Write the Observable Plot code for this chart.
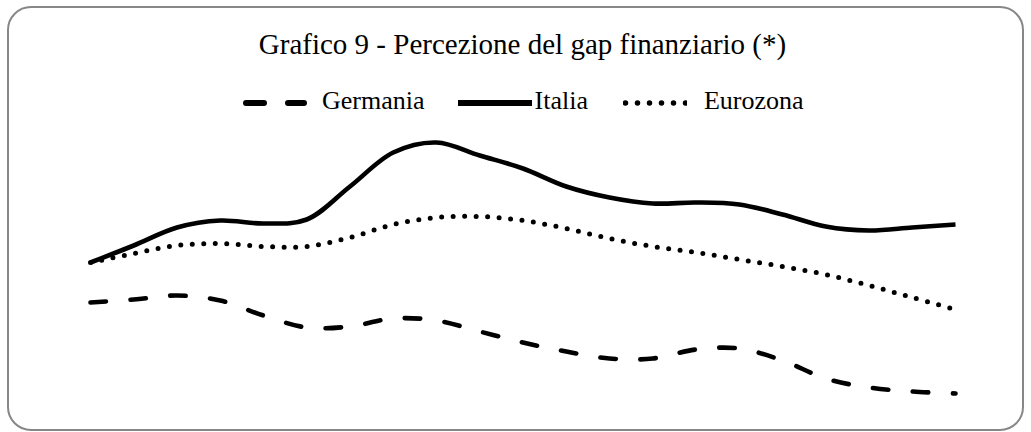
<!DOCTYPE html>
<html>
<head>
<meta charset="utf-8">
<script src="https://cdn.jsdelivr.net/npm/d3@7"></script>
<script src="https://cdn.jsdelivr.net/npm/@observablehq/plot@0.6"></script>
<style>
  html, body { margin: 0; padding: 0; background: #fff; }
  body { width: 1031px; height: 432px; position: relative; overflow: hidden; font-family: "Liberation Serif", "Times New Roman", serif; }
  #frame { position: absolute; left: 7px; top: 6px; width: 1017px; height: 425px; box-sizing: border-box; border: 2px solid #878787; border-radius: 24px; }
  #title { position: absolute; left: 7px; width: 1031px; top: 28px; text-align: center; font-size: 29px; line-height: 32px; color: #000; white-space: nowrap; }
  #legend { position: absolute; left: 243px; top: 86px; display: flex; align-items: center; font-size: 26px; line-height: 30px; color: #000; white-space: nowrap; }
  #legend svg { display: block; }
  #chart { position: absolute; left: 0; top: 110px; }
</style>
</head>
<body>
<div id="frame"></div>
<div id="title"></div>
<div id="legend"></div>
<div id="chart"></div>
<script>
const title = "Grafico 9 - Percezione del gap finanziario (*)";
const seriesNames = ["Germania", "Italia", "Eurozona"];
const periods = d3.range(21);
const germania = [23.6, 24.2, 25.0, 24.0, 21.0, 18.6, 18.8, 20.4, 20.0, 17.8, 15.6, 13.8, 12.4, 12.4, 14.2, 14.4, 12.0, 8.4, 6.6, 5.8, 5.4];
const italia   = [31.6, 35.0, 38.6, 40.0, 39.4, 40.2, 46.8, 53.6, 55.6, 53.0, 50.4, 46.8, 44.6, 43.4, 43.6, 43.2, 41.2, 38.8, 38.0, 38.6, 39.2];
const eurozona = [31.6, 33.4, 35.0, 35.4, 34.8, 34.8, 36.6, 39.2, 40.6, 40.8, 40.0, 38.4, 36.4, 34.8, 33.6, 32.2, 30.8, 29.2, 27.0, 24.6, 22.2];

const lineStyle = {
  Germania: {dash: "15.5,24.5", cap: "round", width: 4.6},
  Italia:   {dash: null, cap: "butt", width: 4.6},
  Eurozona: {dash: "0,11.5", cap: "round", width: 5}
};
// legend swatch geometry: [svg width, gap after swatch, gap after label]
const legendLayout = {
  Germania: {w: 64, dash: "18,24", cap: "round", sw: 6, x1: 3, x2: 61, gapSw: 15, gapLbl: 33},
  Italia:   {w: 74, dash: null, cap: "butt", sw: 6, x1: 0, x2: 74, gapSw: 3, gapLbl: 35},
  Eurozona: {w: 64, dash: "0,12", cap: "round", sw: 5.5, x1: 2.5, x2: 64, gapSw: 17, gapLbl: 0}
};

document.getElementById("title").textContent = title;

const legend = document.getElementById("legend");
const ns = "http://www.w3.org/2000/svg";
for (const name of seriesNames) {
  const L = legendLayout[name];
  const svg = document.createElementNS(ns, "svg");
  svg.setAttribute("width", L.w);
  svg.setAttribute("height", 12);
  svg.style.marginRight = L.gapSw + "px";
  svg.style.marginTop = "4px";
  const ln = document.createElementNS(ns, "line");
  ln.setAttribute("x1", L.x1); ln.setAttribute("x2", L.x2);
  ln.setAttribute("y1", 6); ln.setAttribute("y2", 6);
  ln.setAttribute("stroke", "#000");
  ln.setAttribute("stroke-width", L.sw);
  ln.setAttribute("stroke-linecap", L.cap);
  if (L.dash) ln.setAttribute("stroke-dasharray", L.dash);
  svg.appendChild(ln);
  legend.appendChild(svg);
  const label = document.createElement("span");
  label.textContent = name;
  label.style.marginRight = L.gapLbl + "px";
  legend.appendChild(label);
}

const vals = {Germania: germania, Italia: italia, Eurozona: eurozona};
const data = [];
for (const name of seriesNames) {
  periods.forEach((p, i) => data.push({period: p, value: vals[name][i], series: name}));
}

const marks = seriesNames.map(name => Plot.line(data.filter(d => d.series === name), {
  x: "period",
  y: "value",
  stroke: "#000",
  strokeWidth: lineStyle[name].width,
  strokeDasharray: lineStyle[name].dash,
  strokeLinecap: lineStyle[name].cap,
  curve: "catmull-rom"
}));

const chart = Plot.plot({
  width: 1031,
  height: 320,
  marginLeft: 90,
  marginRight: 76,
  marginTop: 10,
  marginBottom: 10,
  x: {domain: [0, 20], axis: null},
  y: {domain: [0, 60], axis: null},
  style: {background: "transparent"},
  marks
});
document.getElementById("chart").appendChild(chart);
</script>
</body>
</html>
